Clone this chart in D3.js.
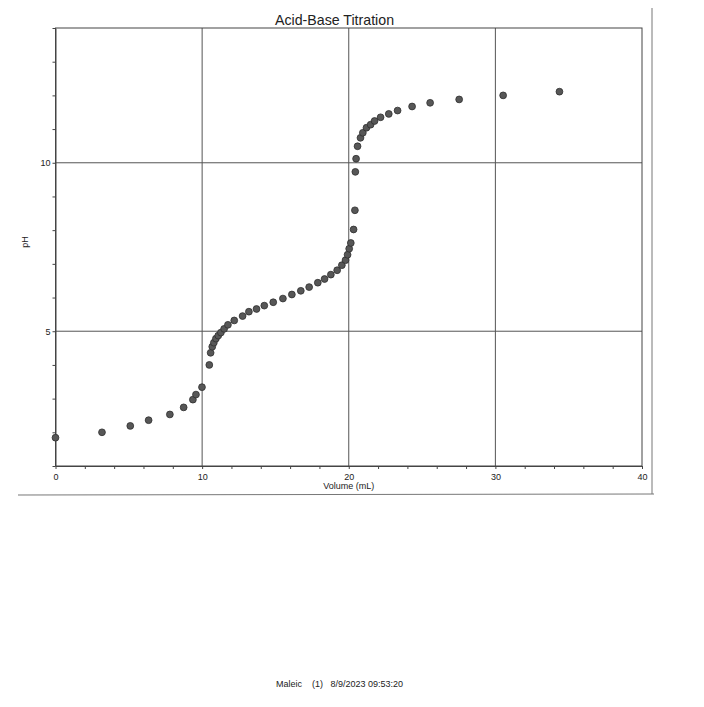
<!DOCTYPE html>
<html>
<head>
<meta charset="utf-8">
<script src="https://cdn.jsdelivr.net/npm/d3@7"></script>
<style>
    body { margin: 0; background: #fff; }
    text { font-family: "Liberation Sans", Arial, sans-serif; fill: #222; }
</style>
</head>
<body>
<div id="chart"></div>
<script>
// titration readings
var volume = [0, 3.17, 5.1, 6.35, 7.8, 8.74, 9.37, 9.58, 9.99, 10.49,
    10.58, 10.69, 10.8, 10.94, 11.1, 11.28, 11.5, 11.76, 12.19, 12.76,
    13.19, 13.71, 14.24, 14.85, 15.51, 16.12, 16.73, 17.3, 17.89, 18.35,
    18.78, 19.21, 19.53, 19.78, 19.92, 20.03, 20.14, 20.33, 20.42, 20.45,
    20.5, 20.6, 20.8, 20.96, 21.21, 21.49, 21.76, 22.17, 22.73, 23.33,
    24.32, 25.55, 27.53, 30.53, 34.37];
var pH = [1.84, 2.0, 2.19, 2.36, 2.53, 2.74, 2.97, 3.12, 3.34, 4.0,
    4.36, 4.54, 4.66, 4.78, 4.87, 4.96, 5.07, 5.19, 5.32, 5.45,
    5.58, 5.66, 5.76, 5.86, 5.97, 6.09, 6.2, 6.31, 6.44, 6.55,
    6.68, 6.81, 6.96, 7.11, 7.27, 7.45, 7.62, 8.02, 8.59, 9.73,
    10.12, 10.49, 10.74, 10.89, 11.04, 11.13, 11.24, 11.35, 11.45, 11.55,
    11.67, 11.78, 11.88, 12.0, 12.11];

var xTicks = [0, 2, 4, 6, 8, 10, 12, 14, 16, 18, 20, 22, 24, 26, 28, 30, 32, 34, 36, 38, 40];
var xLabels = [0, 10, 20, 30, 40];
var yTicks = [1, 2, 3, 4, 5, 6, 7, 8, 9, 10, 11, 12, 13, 14];
var yLabels = [5, 10];

var chartTitle = 'Acid-Base Titration';
var xTitle = 'Volume (mL)';
var yTitle = 'pH';
var footer = 'Maleic    (1)   8/9/2023 09:53:20';

var svgWidth = 704;
var svgHeight = 707;
// note: "top" is taken by window.top, so plot edges get their own names
var plotLeft = 55.5, plotRight = 642, plotTop = 28, plotBottom = 466;

var svg = d3.select('#chart')
    .append('svg')
    .attr('width', svgWidth)
    .attr('height', svgHeight);

var x = d3.scaleLinear().domain([0, 40]).range([plotLeft, plotRight]);
var y = d3.scaleLinear().domain([1, 14]).range([plotBottom, plotTop]);

// grid lines at the labelled values
svg.append('g')
    .selectAll('line')
    .data(xLabels.slice(1, -1))
    .enter()
    .append('line')
    .attr('x1', function(d) { return x(d); })
    .attr('x2', function(d) { return x(d); })
    .attr('y1', plotTop)
    .attr('y2', plotBottom)
    .attr('stroke', '#555')
    .attr('stroke-width', 1);

svg.append('g')
    .selectAll('line')
    .data(yLabels)
    .enter()
    .append('line')
    .attr('x1', plotLeft)
    .attr('x2', plotRight)
    .attr('y1', function(d) { return y(d); })
    .attr('y2', function(d) { return y(d); })
    .attr('stroke', '#555')
    .attr('stroke-width', 1);

// plot frame
svg.append('rect')
    .attr('x', plotLeft)
    .attr('y', plotTop)
    .attr('width', plotRight - plotLeft)
    .attr('height', plotBottom - plotTop)
    .attr('fill', 'none')
    .attr('stroke', '#444')
    .attr('stroke-width', 1);

// axes
var xAxis = d3.axisBottom(x)
    .tickValues(xTicks)
    .tickSize(3)
    .tickSizeOuter(0)
    .tickPadding(5)
    .tickFormat(function(d) { return xLabels.indexOf(d) >= 0 ? d : ''; });

var yAxis = d3.axisLeft(y)
    .tickValues(yTicks)
    .tickSize(3)
    .tickSizeOuter(0)
    .tickPadding(2)
    .tickFormat(function(d) { return yLabels.indexOf(d) >= 0 ? d : ''; });

var gx = svg.append('g')
    .attr('transform', 'translate(0,' + plotBottom + ')')
    .call(xAxis);
var gy = svg.append('g')
    .attr('transform', 'translate(' + plotLeft + ',0)')
    .call(yAxis);

[gx, gy].forEach(function(g) {
    g.select('.domain').attr('stroke', '#444');
    g.selectAll('line').attr('stroke', '#444');
    g.selectAll('text')
        .attr('font-family', '"Liberation Sans", Arial, sans-serif')
        .attr('font-size', 9)
        .attr('fill', '#222');
});

// points
svg.append('g')
    .selectAll('circle')
    .data(volume)
    .enter()
    .append('circle')
    .attr('cx', function(d) { return x(d); })
    .attr('cy', function(d, i) { return y(pH[i]); })
    .attr('r', 3.4)
    .attr('fill', '#575757')
    .attr('stroke', '#2e2e2e')
    .attr('stroke-width', 0.8);

// texts
svg.append('text')
    .attr('x', 334.5)
    .attr('y', 25)
    .attr('text-anchor', 'middle')
    .attr('font-size', 14.2)
    .text(chartTitle);

svg.append('text')
    .attr('x', (plotLeft + plotRight) / 2)
    .attr('y', 489)
    .attr('text-anchor', 'middle')
    .attr('font-size', 9)
    .text(xTitle);

svg.append('text')
    .attr('transform', 'translate(28,242) rotate(-90)')
    .attr('text-anchor', 'middle')
    .attr('font-size', 9)
    .text(yTitle);

svg.append('text')
    .attr('x', 276)
    .attr('y', 687)
    .attr('font-size', 9)
    .style('white-space', 'pre')
    .text(footer);

// page border lines of the printout
svg.append('line')
    .attr('x1', 652).attr('x2', 652)
    .attr('y1', 8).attr('y2', 494)
    .attr('stroke', '#777').attr('stroke-width', 1);
svg.append('line')
    .attr('x1', 18).attr('x2', 654)
    .attr('y1', 495).attr('y2', 494)
    .attr('stroke', '#777').attr('stroke-width', 1);
</script>
</body>
</html>
